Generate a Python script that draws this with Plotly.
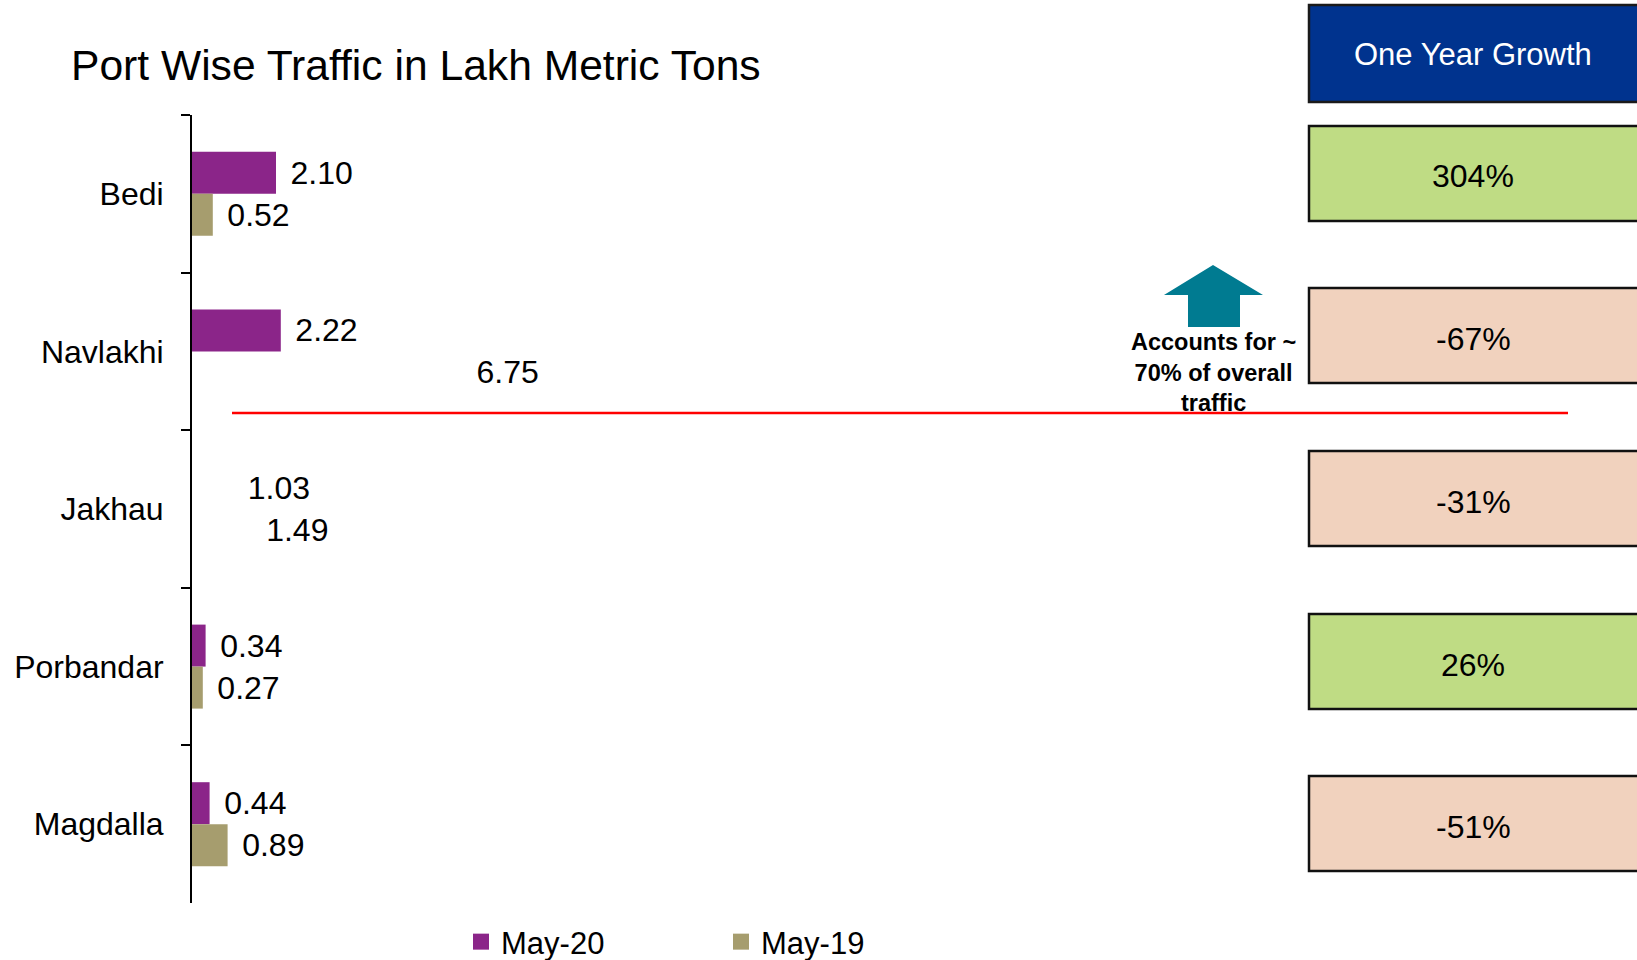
import plotly.graph_objects as go

# ---------------- data ----------------
ports = ["Bedi", "Navlakhi", "Jakhau", "Porbandar", "Magdalla"]
may20 = [2.10, 2.22, 1.03, 0.34, 0.44]
may19 = [0.52, 6.75, 1.49, 0.27, 0.89]
growth = [304, -67, -31, 26, -51]
series_names = ["May-20", "May-19"]
title_text = "Port Wise Traffic in Lakh Metric Tons"
growth_header = "One Year Growth"
note_text = "Accounts for ~<br>70% of overall<br>traffic"

# ---------------- layout helpers ----------------
W_FIG, H_FIG = 1637, 960
L, R, T, B = 192, 397, 115, 57
PW = W_FIG - L - R
PH = H_FIG - T - B
PX_PER_UNIT = 40.0


def fx(px):
    return (px - L) / PW


def fy(py):
    return 1 - (py - T) / PH


FONT = "Liberation Sans, Arial, sans-serif"
PURPLE = "#8B2589"
OLIVE = "#A69D6E"
CLEAR = "rgba(0,0,0,0)"
NAVY = "#00338E"
GREEN = "#BFDC84"
PEACH = "#F1D2BE"
TEAL = "#007B91"

# bars that are not visible in the original slide (only their labels show)
c20 = [PURPLE, PURPLE, CLEAR, PURPLE, PURPLE]
c19 = [OLIVE, CLEAR, CLEAR, OLIVE, OLIVE]

fig = go.Figure()
for name, vals, cols in [(series_names[0], may20, c20), (series_names[1], may19, c19)]:
    fig.add_trace(go.Bar(
        y=ports, x=vals, orientation="h", name=name,
        marker=dict(color=cols, line=dict(width=0)),
        texttemplate="\u00a0\u200a%{x:.2f}", textposition="outside",
        textfont=dict(size=32, color="black", family=FONT),
        constraintext="none", cliponaxis=False, showlegend=False,
    ))

# legend entries
for name, col in [(series_names[0], PURPLE), (series_names[1], OLIVE)]:
    fig.add_trace(go.Scatter(
        x=[None], y=[None], mode="markers", name=name,
        marker=dict(symbol="square", size=16, color=col),
    ))

shapes = []
annotations = []

# growth boxes
box_x0, box_x1 = 1309, 1650
box_cx = (1309 + 1637) / 2
shapes.append(dict(type="rect", xref="paper", yref="paper",
                   x0=fx(box_x0), x1=fx(box_x1), y0=fy(5), y1=fy(102),
                   fillcolor=NAVY, line=dict(color="#1a1a1a", width=2.5), layer="above"))
annotations.append(dict(xref="paper", yref="paper", x=fx(box_cx), y=fy(54),
                        xanchor="center", yanchor="middle",
                        text=growth_header, showarrow=False,
                        font=dict(size=31, color="white", family=FONT)))
box_tops = [126, 288, 451, 614, 776]
box_h = 95
for g, top in zip(growth, box_tops):
    shapes.append(dict(type="rect", xref="paper", yref="paper",
                       x0=fx(box_x0), x1=fx(box_x1), y0=fy(top), y1=fy(top + box_h),
                       fillcolor=GREEN if g >= 0 else PEACH,
                       line=dict(color="#111111", width=2.5), layer="above"))
    annotations.append(dict(xref="paper", yref="paper", x=fx(box_cx), y=fy(top + box_h / 2),
                            xanchor="center", yanchor="middle", yshift=-3,
                            text=f"{g}%", showarrow=False,
                            font=dict(size=32, color="black", family=FONT)))

# red separator line
shapes.append(dict(type="line", xref="paper", yref="paper",
                   x0=fx(232), x1=fx(1568), y0=fy(413), y1=fy(413),
                   line=dict(color="#FF0000", width=2.5), layer="above"))

# teal up arrow
pts = [(1213, 265), (1263, 295), (1240, 295), (1240, 327),
       (1188, 327), (1188, 295), (1164, 295)]
path = "M " + " L ".join(f"{fx(a):.5f},{fy(b):.5f}" for a, b in pts) + " Z"
shapes.append(dict(type="path", xref="paper", yref="paper", path=path,
                   fillcolor=TEAL, line=dict(width=0), layer="above"))
annotations.append(dict(xref="paper", yref="paper", x=fx(1213), y=fy(372),
                        xanchor="center", yanchor="middle",
                        text=f"<b>{note_text}</b>", showarrow=False, align="center",
                        font=dict(size=23.5, color="black", family=FONT)))

fig.update_layout(
    width=W_FIG, height=H_FIG, autosize=False,
    margin=dict(l=L, r=R, t=T, b=B, pad=0, autoexpand=False),
    paper_bgcolor="white", plot_bgcolor="white",
    font=dict(family=FONT, color="black", size=31),
    barmode="group", bargap=0.467, bargroupgap=0,
    title=dict(text=title_text, xref="container", yref="container",
               x=71 / W_FIG, xanchor="left", y=1 - 65 / H_FIG, yanchor="middle",
               font=dict(size=42.6, color="black", family=FONT)),
    xaxis=dict(range=[0, PW / PX_PER_UNIT], visible=False, showgrid=False, zeroline=False,
               fixedrange=True),
    yaxis=dict(type="category", autorange="reversed", showline=True, linecolor="black",
               linewidth=2, ticks="outside", tickson="boundaries", ticklen=9, tickwidth=2,
               tickcolor="black", tickfont=dict(size=32, color="black", family=FONT),
               ticklabelstandoff=20, showgrid=False, zeroline=False, automargin=False),
    legend=dict(orientation="h", xref="container", yref="container",
                x=461 / W_FIG, xanchor="left", y=1 - 942 / H_FIG, yanchor="middle",
                font=dict(size=31, color="black", family=FONT), bgcolor="rgba(0,0,0,0)",
                entrywidth=215, entrywidthmode="pixels", itemsizing="trace"),
    shapes=shapes, annotations=annotations,
)

fig.write_html("out.html", config={"displayModeBar": False},
               post_script="document.body.style.margin='0';document.body.style.overflow='hidden';")
